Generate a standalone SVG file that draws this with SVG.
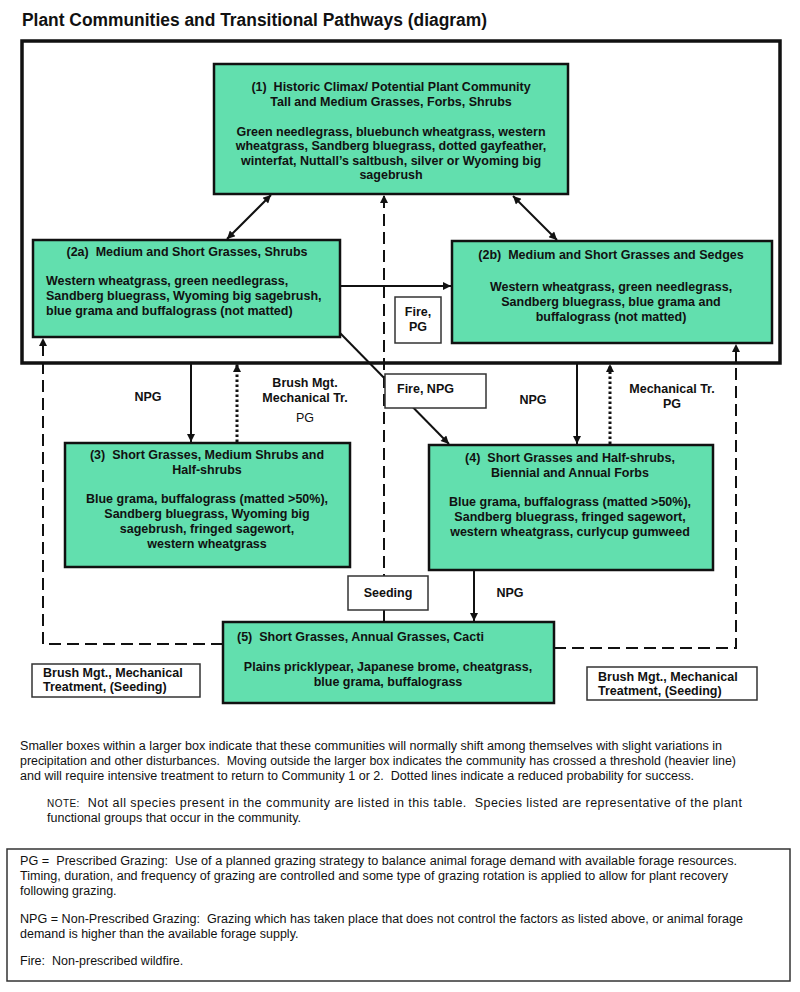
<svg xmlns="http://www.w3.org/2000/svg" width="800" height="992" viewBox="0 0 800 992">
<defs>
<style>
text{font-family:"Liberation Sans",Arial,sans-serif;fill:#111}
.b{font-weight:bold;font-size:12.5px}
.c{text-anchor:middle}
.r{font-size:12.5px}
.node{fill:#62dfae;stroke:#111;stroke-width:2.5}
.lbl{fill:#fff;stroke:#333;stroke-width:1.5}
.solid{fill:none;stroke:#111;stroke-width:2}
.dash{fill:none;stroke:#111;stroke-width:2;stroke-dasharray:12 6}
.dot{fill:none;stroke:#111;stroke-width:3;stroke-dasharray:2.5 2.5}
</style>
<marker id="ah" viewBox="0 0 10 10" refX="10" refY="5" markerWidth="10" markerHeight="8" markerUnits="userSpaceOnUse" orient="auto-start-reverse">
<path d="M0,0 L10,5 L0,10 z" fill="#111"/>
</marker>
</defs>
<rect width="800" height="992" fill="#fff"/>
<text x="22" y="26" font-size="18" font-weight="bold" textLength="465" lengthAdjust="spacingAndGlyphs">Plant Communities and Transitional Pathways (diagram)</text>

<g id="threshold-box">
<rect x="22" y="41" width="758" height="322" fill="none" stroke="#111" stroke-width="3.5"/>
</g>

<g id="connectors">
<line class="solid" x1="271" y1="195" x2="227" y2="239" marker-start="url(#ah)" marker-end="url(#ah)"/>
<line class="solid" x1="513" y1="196" x2="557" y2="240" marker-start="url(#ah)" marker-end="url(#ah)"/>
<line class="solid" x1="340" y1="286" x2="451" y2="286" marker-end="url(#ah)"/>
<line class="solid" x1="340" y1="333" x2="449" y2="444" marker-end="url(#ah)"/>
<line class="dash" x1="384" y1="622" x2="384" y2="195" marker-end="url(#ah)"/>
<line class="solid" x1="191" y1="363" x2="191" y2="442" marker-end="url(#ah)"/>
<line class="dot" x1="237" y1="442" x2="237" y2="364" marker-end="url(#ah)"/>
<line class="solid" x1="577" y1="363" x2="577" y2="444" marker-end="url(#ah)"/>
<line class="dot" x1="610" y1="444" x2="610" y2="364" marker-end="url(#ah)"/>
<line class="solid" x1="474" y1="570" x2="474" y2="621" marker-end="url(#ah)"/>
<path class="dash" d="M223,644 H43 V338" marker-end="url(#ah)"/>
<path class="dash" d="M554,648 H736 V344" marker-end="url(#ah)"/>
</g>

<g id="node-1">
<rect class="node" x="214" y="64" width="354" height="130"/>
<text class="b c" x="391" y="91">(1)&#160; Historic Climax/ Potential Plant Community</text>
<text class="b c" x="391" y="106">Tall and Medium Grasses, Forbs, Shrubs</text>
<text class="b c" x="391" y="136">Green needlegrass, bluebunch wheatgrass, western</text>
<text class="b c" x="391" y="150">wheatgrass, Sandberg bluegrass, dotted gayfeather,</text>
<text class="b c" x="391" y="165">winterfat, Nuttall’s saltbush, silver or Wyoming big</text>
<text class="b c" x="391" y="179">sagebrush</text>
</g>

<g id="node-2a">
<rect class="node" x="33" y="240" width="307" height="97"/>
<text class="b c" x="187" y="256">(2a)&#160; Medium and Short Grasses, Shrubs</text>
<text class="b" x="46" y="285">Western wheatgrass, green needlegrass,</text>
<text class="b" x="46" y="300">Sandberg bluegrass, Wyoming big sagebrush,</text>
<text class="b" x="46" y="315">blue grama and buffalograss (not matted)</text>
</g>

<g id="node-2b">
<rect class="node" x="452" y="241" width="320" height="102"/>
<text class="b c" x="611" y="259">(2b)&#160; Medium and Short Grasses and Sedges</text>
<text class="b c" x="611" y="291">Western wheatgrass, green needlegrass,</text>
<text class="b c" x="611" y="306">Sandberg bluegrass, blue grama and</text>
<text class="b c" x="611" y="321">buffalograss (not matted)</text>
</g>

<g id="label-fire-pg">
<rect class="lbl" x="395" y="297" width="46" height="46"/>
<text class="b c" x="418" y="316">Fire,</text>
<text class="b c" x="418" y="331">PG</text>
</g>

<g id="label-fire-npg">
<rect class="lbl" x="385" y="374" width="101" height="34"/>
<text class="b" x="397" y="393">Fire, NPG</text>
</g>

<g id="label-npg-left">
<text class="b c" x="148" y="401">NPG</text>
</g>
<g id="label-brush-left">
<text class="b c" x="305" y="387">Brush Mgt.</text>
<text class="b c" x="305" y="402">Mechanical Tr.</text>
<text class="r c" x="305" y="422">PG</text>
</g>
<g id="label-npg-mid">
<text class="b c" x="533" y="404">NPG</text>
</g>
<g id="label-mech-right">
<text class="b c" x="672" y="393">Mechanical Tr.</text>
<text class="b c" x="672" y="408">PG</text>
</g>

<g id="node-3">
<rect class="node" x="65" y="443" width="285" height="124"/>
<text class="b c" x="207" y="459">(3)&#160; Short Grasses, Medium Shrubs and</text>
<text class="b c" x="207" y="474">Half-shrubs</text>
<text class="b c" x="207" y="503">Blue grama, buffalograss (matted &gt;50%),</text>
<text class="b c" x="207" y="518">Sandberg bluegrass, Wyoming big</text>
<text class="b c" x="207" y="533">sagebrush, fringed sagewort,</text>
<text class="b c" x="207" y="548">western wheatgrass</text>
</g>

<g id="node-4">
<rect class="node" x="429" y="445" width="284" height="125"/>
<text class="b c" x="570" y="462">(4)&#160; Short Grasses and Half-shrubs,</text>
<text class="b c" x="570" y="477">Biennial and Annual Forbs</text>
<text class="b c" x="570" y="506">Blue grama, buffalograss (matted &gt;50%),</text>
<text class="b c" x="570" y="521">Sandberg bluegrass, fringed sagewort,</text>
<text class="b c" x="570" y="536">western wheatgrass, curlycup gumweed</text>
</g>

<g id="label-seeding">
<rect class="lbl" x="348" y="576" width="80" height="34"/>
<text class="b c" x="388" y="597">Seeding</text>
</g>
<g id="label-npg-low">
<text class="b c" x="510" y="597">NPG</text>
</g>

<g id="node-5">
<rect class="node" x="223" y="622" width="331" height="81"/>
<text class="b" x="237" y="641">(5)&#160; Short Grasses, Annual Grasses, Cacti</text>
<text class="b c" x="388" y="671">Plains pricklypear, Japanese brome, cheatgrass,</text>
<text class="b c" x="388" y="686">blue grama, buffalograss</text>
</g>

<g id="label-brush-bl">
<rect class="lbl" x="32" y="664" width="168" height="33"/>
<text class="b" x="43" y="677">Brush Mgt., Mechanical</text>
<text class="b" x="43" y="691">Treatment, (Seeding)</text>
</g>
<g id="label-brush-br">
<rect class="lbl" x="587" y="667" width="170" height="33"/>
<text class="b" x="598" y="681">Brush Mgt., Mechanical</text>
<text class="b" x="598" y="695">Treatment, (Seeding)</text>
</g>

<g id="notes">
<text class="r" x="20" y="750" textLength="702" lengthAdjust="spacingAndGlyphs">Smaller boxes within a larger box indicate that these communities will normally shift among themselves with slight variations in</text>
<text class="r" x="20" y="765" textLength="716" lengthAdjust="spacingAndGlyphs">precipitation and other disturbances.&#160; Moving outside the larger box indicates the community has crossed a threshold (heavier line)</text>
<text class="r" x="20" y="780" textLength="674" lengthAdjust="spacingAndGlyphs">and will require intensive treatment to return to Community 1 or 2.&#160; Dotted lines indicate a reduced probability for success.</text>
<text class="r" x="47" y="807" textLength="695" lengthAdjust="spacing"><tspan font-size="10">NOTE:</tspan>&#160; Not all species present in the community are listed in this table.&#160; Species listed are representative of the plant</text>
<text class="r" x="47" y="822">functional groups that occur in the community.</text>
</g>

<g id="legend">
<rect x="7" y="849" width="783" height="132" fill="none" stroke="#333" stroke-width="1.5"/>
<text class="r" x="20" y="865" textLength="717" lengthAdjust="spacingAndGlyphs">PG =&#160; Prescribed Grazing:&#160; Use of a planned grazing strategy to balance animal forage demand with available forage resources.</text>
<text class="r" x="20" y="880" textLength="708" lengthAdjust="spacingAndGlyphs">Timing, duration, and frequency of grazing are controlled and some type of grazing rotation is applied to allow for plant recovery</text>
<text class="r" x="20" y="895">following grazing.</text>
<text class="r" x="20" y="923" textLength="723" lengthAdjust="spacingAndGlyphs">NPG = Non-Prescribed Grazing:&#160; Grazing which has taken place that does not control the factors as listed above, or animal forage</text>
<text class="r" x="20" y="938">demand is higher than the available forage supply.</text>
<text class="r" x="20" y="965">Fire:&#160; Non-prescribed wildfire.</text>
</g>
</svg>
